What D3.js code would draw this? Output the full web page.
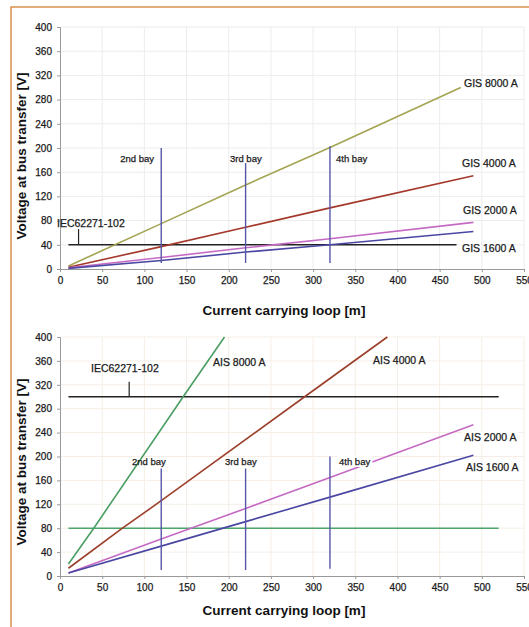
<!DOCTYPE html>
<html>
<head>
<meta charset="utf-8">
<script src="https://cdn.jsdelivr.net/npm/d3@7"></script>
<style>
  body { margin: 0; background: #fff; }
  svg { display: block; font-family: "Liberation Sans", Arial, sans-serif; }
  .title { font-size: 13.5px; font-weight: bold; fill: #111; }
  .lab { fill: #1a1a1a; stroke: #1a1a1a; stroke-width: 0.25px; }
</style>
</head>
<body>
<script>
// tick labels
var xTicks = [0, 50, 100, 150, 200, 250, 300, 350, 400, 450, 500, 550]
var yTicks = [0, 40, 80, 120, 160, 200, 240, 280, 320, 360, 400]

// top chart (GIS): [x, V] points
var gisNames = ["GIS 8000 A", "GIS 4000 A", "GIS 2000 A", "GIS 1600 A"]
var gisValues = [
    [[10, 5], [120, 75], [220, 139], [320, 201], [475, 300]],
    [[10, 3], [120, 37], [220, 69], [320, 101], [490, 154]],
    [[10, 2], [120, 19], [220, 35], [320, 50], [490, 77]],
    [[10, 1], [120, 14], [220, 28], [320, 40], [490, 62]]
]
var gisColors = ["#a3a352", "#a3382b", "#c56ac4", "#4a47a3"]
var gisLimit = [[10, 40], [470, 40]]
var gisLimitTick = [22, 40, 66]
var gisBays = [["2nd bay", 120, 10, 200], ["3rd bay", 220, 10, 175], ["4th bay", 320, 10, 203]]

// bottom chart (AIS)
var aisNames = ["AIS 8000 A", "AIS 4000 A", "AIS 2000 A", "AIS 1600 A"]
var aisValues = [
    [[10, 20], [40, 80], [146, 300], [195, 400]],
    [[10, 13], [74, 80], [120, 126], [290, 300], [388, 400]],
    [[10, 5], [120, 62], [220, 113], [320, 165], [490, 253]],
    [[10, 5], [120, 50], [220, 91], [320, 132], [490, 202]]
]
var aisColors = ["#4a9e62", "#9c3e2a", "#c56ac4", "#4a47a3"]
var aisLimit = [[10, 300], [520, 300]]
var aisLimitTick = [82, 300, 325]
var aisGreen = [[10, 80], [520, 80]]
var aisBays = [["2nd bay", 120, 10, 180], ["3rd bay", 220, 10, 180], ["4th bay", 320, 12, 200]]

var W = 529, H = 627
var svg = d3.select("body").append("svg").attr("width", W).attr("height", H)

// orange frame (top and left edges)
svg.append("path")
    .attr("d", "M11,627 L11,7 L529,7")
    .attr("fill", "none")
    .attr("stroke", "#d8914c")
    .attr("stroke-width", 1.5)

function drawChart(cfg) {
    var x = d3.scaleLinear().domain([0, 550]).range([60, 524])
    var y = d3.scaleLinear().domain([0, 400]).range([cfg.y0, cfg.y1])
    var g = svg.append("g")

    // grid
    g.selectAll(".vg").data(xTicks.slice(1)).enter().append("line")
        .attr("x1", d => x(d)).attr("x2", d => x(d))
        .attr("y1", y(0)).attr("y2", y(400))
        .attr("stroke", cfg.grid).attr("stroke-width", 1)
    g.selectAll(".hg").data(yTicks.slice(1)).enter().append("line")
        .attr("x1", x(0)).attr("x2", x(550))
        .attr("y1", d => y(d)).attr("y2", d => y(d))
        .attr("stroke", cfg.grid).attr("stroke-width", 1)

    // axes
    var ax = g.append("g").attr("transform", "translate(0," + y(0) + ")")
        .call(d3.axisBottom(x).tickValues(xTicks).tickSize(3).tickPadding(5))
    var ay = g.append("g").attr("transform", "translate(" + x(0) + ",0)")
        .call(d3.axisLeft(y).tickValues(yTicks).tickSize(3).tickPadding(5))
    ;[ax, ay].forEach(a => {
        a.select(".domain").attr("stroke", "#999")
        a.selectAll(".tick line").attr("stroke", "#999")
        a.selectAll("text").attr("font-family", "Liberation Sans, Arial, sans-serif")
            .style("font-size", "10px").attr("fill", "#1a1a1a")
            .attr("stroke", "#1a1a1a").attr("stroke-width", 0.25)
    })

    var line = d3.line().x(d => x(d[0])).y(d => y(d[1]))

    // limit line with small marker
    g.append("path").attr("d", line(cfg.limit))
        .attr("fill", "none").attr("stroke", "#222").attr("stroke-width", 1.6)
    g.append("line")
        .attr("x1", x(cfg.limitTick[0])).attr("x2", x(cfg.limitTick[0]))
        .attr("y1", y(cfg.limitTick[1])).attr("y2", y(cfg.limitTick[2]))
        .attr("stroke", "#222").attr("stroke-width", 1.2)
    if (cfg.green) {
        g.append("path").attr("d", line(cfg.green))
            .attr("fill", "none").attr("stroke", "#4aa66a").attr("stroke-width", 1.6)
    }

    // series
    g.selectAll(".s").data(cfg.values).enter().append("path")
        .attr("d", line)
        .attr("fill", "none")
        .attr("stroke", (d, i) => cfg.colors[i])
        .attr("stroke-width", 1.6)

    // bay lines
    g.selectAll(".bay").data(cfg.bays).enter().append("line")
        .attr("x1", d => x(d[1])).attr("x2", d => x(d[1]))
        .attr("y1", d => y(d[2])).attr("y2", d => y(d[3]))
        .attr("stroke", "#5656a8").attr("stroke-width", 1.4)

    // text labels: [text, x, y, size, anchor, white box]
    cfg.labels.forEach(l => {
        var lg = g.append("g")
        var bg = lg.append("rect").attr("fill", "#fff")
        var t = lg.append("text").attr("class", "lab")
            .attr("x", l[1]).attr("y", l[2])
            .style("font-size", l[3] + "px")
            .attr("text-anchor", l[4] || "start")
            .text(l[0])
        if (l[5]) {
            var b = t.node().getBBox()
            bg.attr("x", b.x - 2).attr("y", b.y)
                .attr("width", b.width + 4).attr("height", b.height)
        } else {
            bg.remove()
        }
    })

    // axis titles
    svg.append("text").attr("class", "title")
        .attr("x", 284).attr("y", cfg.xtY)
        .attr("text-anchor", "middle")
        .text("Current carrying loop [m]")
    svg.append("text").attr("class", "title")
        .attr("transform", "translate(" + cfg.ytX + "," + cfg.ytY + ") rotate(-90)")
        .attr("text-anchor", "middle")
        .text("Voltage at bus transfer [V]")
}

drawChart({
    y0: 269, y1: 27, grid: "#ececec",
    values: gisValues, colors: gisColors,
    limit: gisLimit, limitTick: gisLimitTick, bays: gisBays,
    labels: [
        ["IEC62271-102", 57, 227, 10.5],
        ["2nd bay", 154, 162, 9.5, "end"],
        ["3rd bay", 230, 162, 9.5],
        ["4th bay", 336, 162, 9.5],
        [gisNames[0], 464, 87, 10.5],
        [gisNames[1], 462, 167, 10.5],
        [gisNames[2], 463, 214, 10.5],
        [gisNames[3], 462, 252, 10.5]
    ],
    xtY: 315, ytX: 26, ytY: 156
})

drawChart({
    y0: 576, y1: 337, grid: "#f6eee6",
    values: aisValues, colors: aisColors,
    limit: aisLimit, limitTick: aisLimitTick, green: aisGreen, bays: aisBays,
    labels: [
        ["IEC62271-102", 91, 372, 10.5],
        ["2nd bay", 132, 465, 9.5],
        ["3rd bay", 225, 465, 9.5],
        ["4th bay", 339, 465, 9.5, "start", true],
        [aisNames[0], 213, 366, 10.5],
        [aisNames[1], 373, 364, 10.5],
        [aisNames[2], 464, 441, 10.5, "start", true],
        [aisNames[3], 466, 471, 10.5]
    ],
    xtY: 615, ytX: 26, ytY: 462
})
</script>
</body>
</html>
